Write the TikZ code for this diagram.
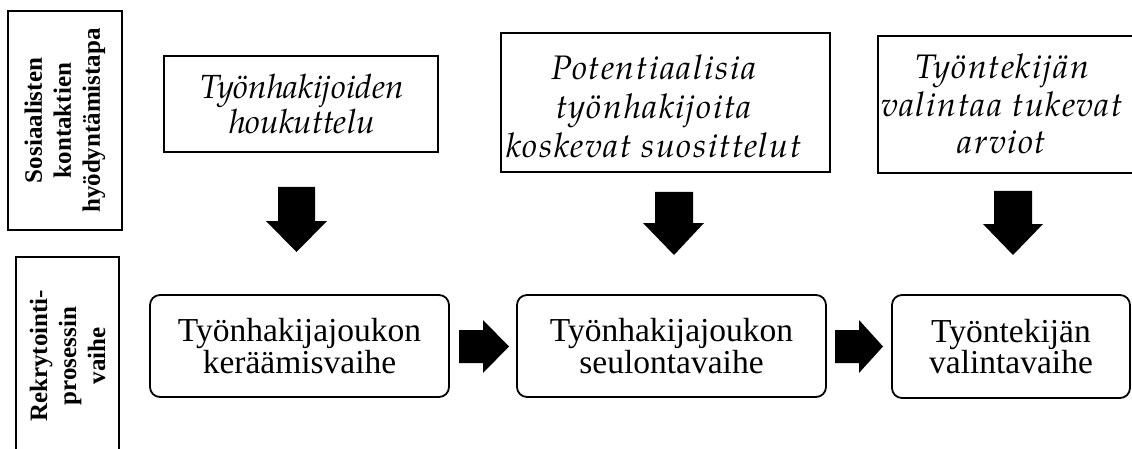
\documentclass[tikz,border=0pt]{standalone}
\usepackage{fontspec}
\setmainfont{Liberation Serif}
\newfontfamily\pala{TeX Gyre Pagella}
\newfontfamily\palawide{TeX Gyre Pagella}[LetterSpace=4.5]
\begin{document}
\begin{tikzpicture}[x=1pt,y=-1pt,
  sidebox/.style={draw, line width=1.6pt, rotate=90, align=center, inner sep=0pt,
     font=\fontsize{25}{29}\selectfont\bfseries},
  topbox/.style={draw, line width=1.3pt, inner sep=0pt},
  toptext/.style={align=center, inner sep=0pt},
  phasebox/.style={draw, line width=1.8pt, rounded corners=10pt, align=center, inner sep=0pt,
     font=\fontsize{33.5}{30}\selectfont},
  blockarrow/.style={fill=black}]
\useasboundingbox (0,0) rectangle (1132,449);
\clip (0,0) rectangle (1132,449);
% side labels
\node[sidebox, minimum width=219pt, minimum height=114pt] (sos) at (65,120.5)
  {Sosiaalisten\\kontaktien\\hyödyntämistapa};
\node[sidebox, minimum width=198pt, minimum height=103pt] (rek) at (67.5,356)
  {Rekrytointi-\\prosessin\\vaihe};
% top boxes
\node[topbox, minimum width=274pt, minimum height=96pt] (t1) at (301,104) {};
\node[toptext, font=\pala\itshape\fontsize{33.5}{35}\selectfont] (t1text) at (302,104)
  {Työnhakijoiden\\houkuttelu};
\node[topbox, minimum width=329pt, minimum height=139pt] (t2) at (665.5,102.5) {};
\node[toptext, font=\palawide\itshape\fontsize{34}{39}\selectfont] (t2text) at (654,106)
  {Potentiaalisia\\työnhakijoita\\koskevat suosittelut};
\node[topbox, minimum width=270pt, minimum height=137pt] (t3) at (1013,104.5) {};
\node[toptext, font=\palawide\itshape\fontsize{34}{37.5}\selectfont] (t3text) at (1002,104)
  {Työntekijän\\valintaa tukevat\\arviot};
% phase boxes
\node[phasebox, minimum width=299pt, minimum height=102pt] (p1) at (299.5,346)
  {Työnhakijajoukon\\keräämisvaihe};
\node[phasebox, minimum width=309pt, minimum height=102pt] (p2) at (671.5,346)
  {Työnhakijajoukon\\seulontavaihe};
\node[phasebox, minimum width=238pt, minimum height=103pt] (p3) at (1011,346.5)
  {Työntekijän\\valintavaihe};
% down arrows
\coordinate (d1) at (296.5,187);
\coordinate (d2) at (674,192);
\coordinate (d3) at (1013,191);
\fill[blockarrow] (d1) ++(-18.5,0) -- ++(37,0) -- ++(0,34) -- ++(12,0) -- (296.5,252) -- (266,221) -- ++(12,0) -- cycle;
\fill[blockarrow] (d2) ++(-19,0) -- ++(38,0) -- ++(0,31) -- ++(11,0) -- (674,255) -- (643,223) -- ++(12,0) -- cycle;
\fill[blockarrow] (d3) ++(-19,0) -- ++(38,0) -- ++(0,33) -- ++(11,0) -- (1013,255) -- (983,224) -- ++(11,0) -- cycle;
% right arrows
\coordinate (r1) at (459,330);
\coordinate (r2) at (835,330);
\fill[blockarrow] (r1) -- ++(24,0) -- ++(0,-10) -- (509,346.5) -- (483,373) -- ++(0,-10) -- (459,363) -- cycle;
\fill[blockarrow] (r2) -- ++(24,0) -- ++(0,-10) -- (883,346.5) -- (859,373) -- ++(0,-10) -- (835,363) -- cycle;
\end{tikzpicture}
\end{document}
